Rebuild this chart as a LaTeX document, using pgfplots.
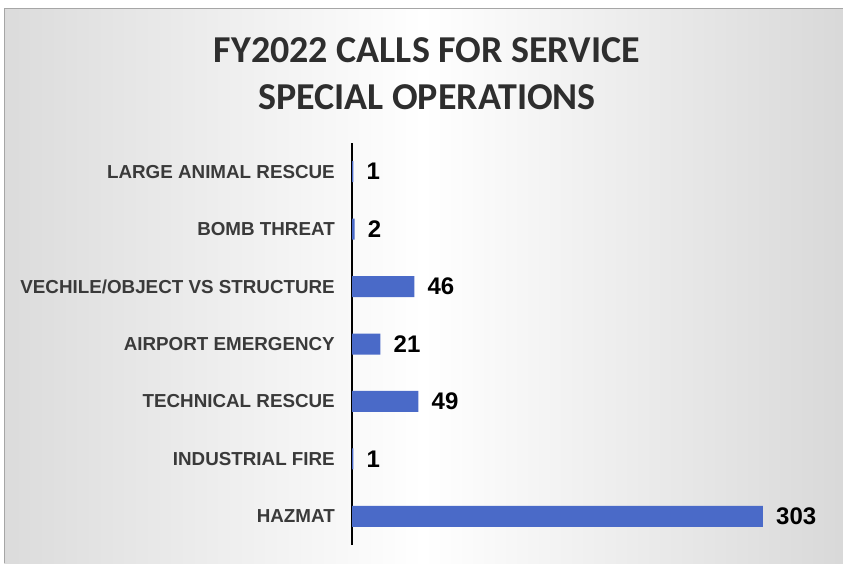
\documentclass[border=0pt]{standalone}
\usepackage{fontspec}
\setmainfont{Liberation Sans}
\newfontfamily\titlefont{Carlito}
\usepackage{pgfplots}
\pgfplotsset{compat=1.18}
\definecolor{barblue}{HTML}{4A6AC8}
\definecolor{labelgray}{HTML}{3A3A3A}
\begin{document}
\begin{tikzpicture}[x=1pt,y=1pt]
\useasboundingbox (0,0) rectangle (843,563);
\fill[white] (0,0) rectangle (843,563);
\shade[left color=gray!28, right color=gray!30, middle color=white] (4,0) rectangle (843,554);
\draw[gray!70, line width=1pt] (4,0) -- (4,554) -- (843,554);
\node[font=\titlefont\bfseries\fontsize{38}{47}\selectfont, text=black!82, align=center] at (427,489.5) {FY2022 CALLS FOR SERVICE\\SPECIAL OPERATIONS};
\begin{axis}[
  at={(352pt,18pt)}, anchor=south west, scale only axis,
  width=448pt, height=402pt,
  xbar, bar width=21pt,
  xmin=0, xmax=330.3, ymin=-0.5, ymax=6.5,
  axis x line=none, axis y line*=left,
  y axis line style={line width=1.6pt, black},
  ytick={0,...,6},
  yticklabels={HAZMAT, INDUSTRIAL FIRE, TECHNICAL RESCUE, AIRPORT EMERGENCY, VECHILE/OBJECT VS STRUCTURE, BOMB THREAT, LARGE ANIMAL RESCUE},
  major tick length=0pt,
  yticklabel style={anchor=east, inner sep=0pt, xshift=-17pt, font=\bfseries\fontsize{18.8}{22}\selectfont, text=labelgray},
  nodes near coords,
  nodes near coords style={anchor=west, inner sep=0pt, xshift=13pt, font=\bfseries\fontsize{24}{28}\selectfont, text=black},
  /pgf/number format/assume math mode=true,
  clip=false,
]
\addplot[fill=barblue, draw=none] coordinates {(303,0) (1,1) (49,2) (21,3) (46,4) (2,5) (1,6)};
\end{axis}
\end{tikzpicture}
\end{document}
